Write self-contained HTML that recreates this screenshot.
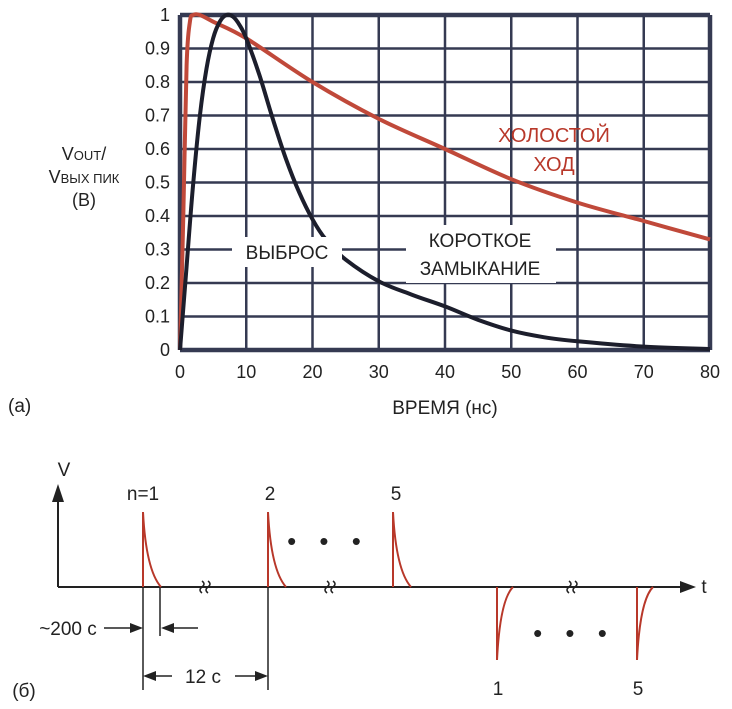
<!DOCTYPE html>
<html><head><meta charset="utf-8"><style>
body{margin:0;background:#fff;width:732px;height:709px;overflow:hidden}
svg{display:block;font-family:"Liberation Sans",Arial,sans-serif}
</style></head><body>
<svg id="s" width="732" height="709" viewBox="0 0 732 709">
<g id="grid"></g>
<g id="ticks" font-size="18" fill="#222"></g>
<g id="series"></g>
<text x="84" y="160" font-size="18" fill="#222" text-anchor="middle">V<tspan font-size="13">OUT</tspan>/</text>
<text x="84" y="183" font-size="18" fill="#222" text-anchor="middle">V<tspan font-size="13">ВЫХ ПИК</tspan></text>
<text x="84" y="206" font-size="18" fill="#222" text-anchor="middle">(В)</text>
<text x="445" y="414" font-size="19" fill="#222" text-anchor="middle">ВРЕМЯ (нс)</text>
<text x="8" y="412" font-size="19" fill="#222">(a)</text>
<rect x="232" y="237" width="110" height="30" fill="#fff"/>
<text x="287" y="259" font-size="19" fill="#222" text-anchor="middle">ВЫБРОС</text>
<rect x="406" y="225" width="150" height="58" fill="#fff"/>
<text x="480" y="247" font-size="19" fill="#222" text-anchor="middle">КОРОТКОЕ</text>
<text x="480" y="275" font-size="19" fill="#222" text-anchor="middle">ЗАМЫКАНИЕ</text>
<text x="554" y="142" font-size="20" fill="#b8382a" text-anchor="middle">ХОЛОСТОЙ</text>
<text x="554" y="171" font-size="20" fill="#b8382a" text-anchor="middle">ХОД</text>

<g stroke="#222" stroke-width="2" fill="none">
<line x1="58" y1="587" x2="58" y2="498"/>
<polygon points="58,484 52,502 64,502" fill="#222" stroke="none"/>
<line x1="58" y1="587" x2="682" y2="587"/>
<polygon points="696,587 680,581 680,593" fill="#222" stroke="none"/>
<line x1="143" y1="587" x2="143" y2="690" stroke-width="1.5"/>
<line x1="160" y1="587" x2="160" y2="636" stroke-width="1.5"/>
<line x1="268" y1="587" x2="268" y2="690" stroke-width="1.5"/>
<line x1="104" y1="628" x2="134" y2="628" stroke-width="1.5"/>
<polygon points="143,628 130,623 130,633" fill="#222" stroke="none"/>
<line x1="170" y1="628" x2="198" y2="628" stroke-width="1.5"/>
<polygon points="161,628 174,623 174,633" fill="#222" stroke="none"/>
<line x1="150" y1="676" x2="172" y2="676" stroke-width="1.5"/>
<line x1="235" y1="676" x2="260" y2="676" stroke-width="1.5"/>
<polygon points="143,676 156,671 156,681" fill="#222" stroke="none"/>
<polygon points="268,676 255,671 255,681" fill="#222" stroke="none"/>
</g>
<g id="pulses"></g>
<g font-size="19" fill="#222" text-anchor="middle">
<text x="64" y="476">V</text>
<text x="704" y="593">t</text>
<text x="143" y="500">n=1</text>
<text x="270" y="500">2</text>
<text x="396" y="500">5</text>
<text x="498" y="695">1</text>
<text x="638" y="695">5</text>
<text x="68" y="635">~200 с</text>
<text x="203" y="683">12 с</text>
<text x="24" y="697">(б)</text>
<text x="328" y="550" font-size="26" letter-spacing="8">• • •</text>
<text x="574" y="642" font-size="26" letter-spacing="8">• • •</text>
</g>
</svg>
<script>
const xTicks=[0,10,20,30,40,50,60,70,80];
const yTicks=[0,0.1,0.2,0.3,0.4,0.5,0.6,0.7,0.8,0.9,1];
const shortT=[0,1,2,3,4,5,6,7,8,9,10,12,14,16,18,20,22,25,30,35,40,45,50,55,60,70,80];
const shortV=[0,0.25,0.5,0.7,0.84,0.93,0.98,1.0,0.995,0.97,0.93,0.82,0.69,0.57,0.47,0.39,0.33,0.27,0.205,0.165,0.13,0.09,0.058,0.038,0.026,0.01,0.003];
const openT=[0,0.5,1,1.5,2,3,5,10,20,30,40,50,60,70,80];
const openV=[0,0.4,0.85,0.98,1.0,1.0,0.98,0.93,0.8,0.69,0.6,0.51,0.44,0.385,0.33];
const posPulses=[143,268,393];
const negPulses=[497,637];
const breaks=[205,330,572];
const NS="http://www.w3.org/2000/svg";
const X0=180,X1=710,Y0=350,Y1=15;
const sx=t=>X0+(t-0)/80*(X1-X0);
const sy=v=>Y0-v*(Y0-Y1);
function mk(tag,attrs,parent){const e=document.createElementNS(NS,tag);for(const k in attrs)e.setAttribute(k,attrs[k]);parent.appendChild(e);return e;}
const g=document.getElementById('grid'),tk=document.getElementById('ticks'),se=document.getElementById('series');
xTicks.forEach(t=>{
 const l=mk('line',{x1:sx(t),x2:sx(t),y1:Y1,y2:Y0,stroke:'#353a52','stroke-width':(t===0||t===80)?4.5:2.5},g);
 
 
 const tx=mk('text',{x:sx(t),y:378,'text-anchor':'middle'},tk);tx.textContent=t;
 
 
});
yTicks.forEach(v=>{
 const l=mk('line',{x1:X0,x2:X1,y1:sy(v),y2:sy(v),stroke:'#353a52','stroke-width':(v===0||v===1)?4.5:2.5},g);
 
 
 const tx=mk('text',{x:170,y:sy(v)+6,'text-anchor':'end'},tk);tx.textContent=v;
 
 
});
function line(T,V,col,name){
 const P=T.map((t,i)=>[sx(t),sy(V[i])]);
 let d='M'+P[0][0].toFixed(1)+','+P[0][1].toFixed(1);
 for(let i=0;i<P.length-1;i++){
  const p0=P[Math.max(i-1,0)],p1=P[i],p2=P[i+1],p3=P[Math.min(i+2,P.length-1)];
  const c1=[p1[0]+(p2[0]-p0[0])/6,p1[1]+(p2[1]-p0[1])/6];
  const c2=[p2[0]-(p3[0]-p1[0])/6,p2[1]-(p3[1]-p1[1])/6];
  d+='C'+c1.map(n=>n.toFixed(1))+' '+c2.map(n=>n.toFixed(1))+' '+p2.map(n=>n.toFixed(1));
 }
 const p=mk('path',{d:d,fill:'none',stroke:col,'stroke-width':4,'stroke-linejoin':'round'},se);
 
 
}
line(openT,openV,'#c0493a','open-circuit-curve');
line(shortT,shortV,'#1c1e2c','short-circuit-curve');
const pg=document.getElementById('pulses');
posPulses.forEach(x=>{
 const p=mk('path',{d:`M${x},587 L${x},512 Q${x+3},570 ${x+18},587`,fill:'none',stroke:'#b8382a','stroke-width':2},pg);
 
 
});
negPulses.forEach(x=>{
 const p=mk('path',{d:`M${x},587 L${x},660 Q${x+3},600 ${x+16},587`,fill:'none',stroke:'#b8382a','stroke-width':2},pg);
 
 
});
breaks.forEach(x=>{
 const p=mk('path',{d:`M${x-3},581 q4,3 0,6 q-4,3 0,6 M${x+3},581 q4,3 0,6 q-4,3 0,6`,fill:'none',stroke:'#222','stroke-width':1.5},pg);
 
 
});
</script>
</body></html>
